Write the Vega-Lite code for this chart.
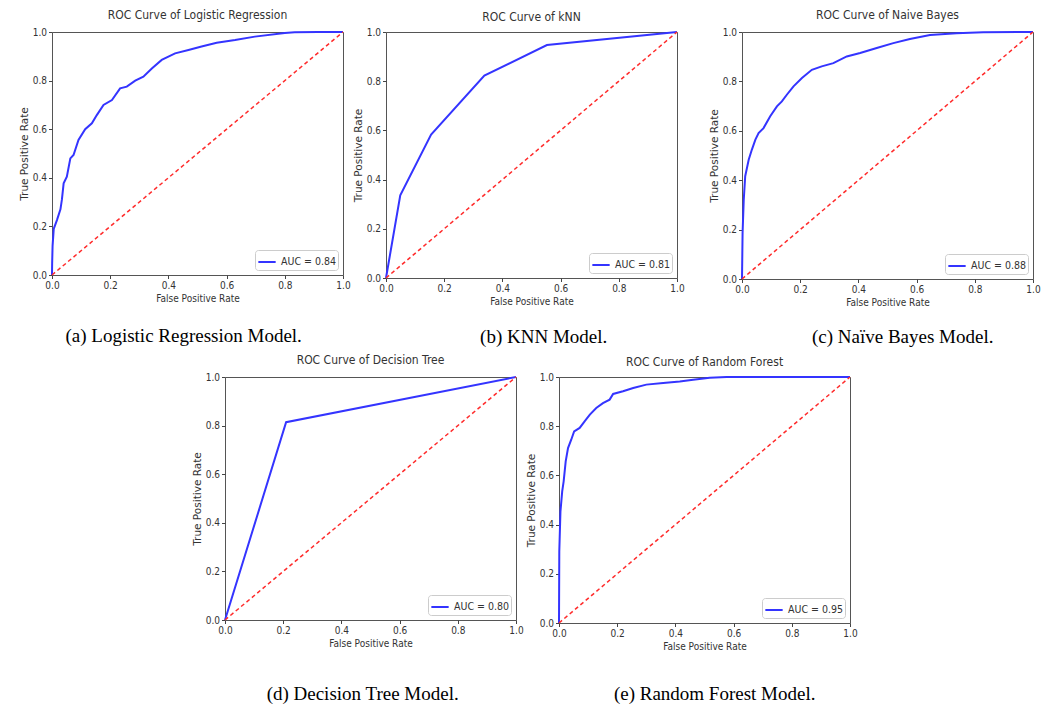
{
  "$schema": "https://vega.github.io/schema/vega-lite/v6.json",
  "background": "white",
  "padding": {"left": 18, "top": 8, "right": 4, "bottom": 2},
  "datasets": {
    "lr": [
      {"fpr": 0, "tpr": 0}, {"fpr": 0.0005, "tpr": 0.048}, {"fpr": 0.002, "tpr": 0.12}, {"fpr": 0.006, "tpr": 0.19},
      {"fpr": 0.017, "tpr": 0.226}, {"fpr": 0.029, "tpr": 0.27}, {"fpr": 0.034, "tpr": 0.31}, {"fpr": 0.04, "tpr": 0.377},
      {"fpr": 0.051, "tpr": 0.405}, {"fpr": 0.063, "tpr": 0.48}, {"fpr": 0.074, "tpr": 0.494}, {"fpr": 0.091, "tpr": 0.556},
      {"fpr": 0.114, "tpr": 0.6}, {"fpr": 0.137, "tpr": 0.624}, {"fpr": 0.154, "tpr": 0.658}, {"fpr": 0.177, "tpr": 0.7},
      {"fpr": 0.206, "tpr": 0.72}, {"fpr": 0.234, "tpr": 0.768}, {"fpr": 0.257, "tpr": 0.775}, {"fpr": 0.286, "tpr": 0.8},
      {"fpr": 0.314, "tpr": 0.816}, {"fpr": 0.343, "tpr": 0.85}, {"fpr": 0.377, "tpr": 0.885}, {"fpr": 0.423, "tpr": 0.912},
      {"fpr": 0.469, "tpr": 0.926}, {"fpr": 0.514, "tpr": 0.94}, {"fpr": 0.566, "tpr": 0.956}, {"fpr": 0.629, "tpr": 0.967},
      {"fpr": 0.697, "tpr": 0.981}, {"fpr": 0.8, "tpr": 0.996}, {"fpr": 0.834, "tpr": 0.999}, {"fpr": 0.914, "tpr": 1.0},
      {"fpr": 1.0, "tpr": 1.0}
    ],
    "knn": [
      {"fpr": 0, "tpr": 0}, {"fpr": 0.049, "tpr": 0.336}, {"fpr": 0.155, "tpr": 0.583}, {"fpr": 0.338, "tpr": 0.823},
      {"fpr": 0.553, "tpr": 0.947}, {"fpr": 1.0, "tpr": 1.0}
    ],
    "nb": [
      {"fpr": 0, "tpr": 0}, {"fpr": 0.002, "tpr": 0.186}, {"fpr": 0.006, "tpr": 0.321}, {"fpr": 0.011, "tpr": 0.416},
      {"fpr": 0.023, "tpr": 0.483}, {"fpr": 0.034, "tpr": 0.524}, {"fpr": 0.046, "tpr": 0.564}, {"fpr": 0.057, "tpr": 0.591},
      {"fpr": 0.074, "tpr": 0.611}, {"fpr": 0.097, "tpr": 0.659}, {"fpr": 0.12, "tpr": 0.699}, {"fpr": 0.137, "tpr": 0.719},
      {"fpr": 0.154, "tpr": 0.746}, {"fpr": 0.177, "tpr": 0.78}, {"fpr": 0.206, "tpr": 0.814}, {"fpr": 0.24, "tpr": 0.847},
      {"fpr": 0.274, "tpr": 0.861}, {"fpr": 0.314, "tpr": 0.874}, {"fpr": 0.36, "tpr": 0.901}, {"fpr": 0.406, "tpr": 0.915},
      {"fpr": 0.463, "tpr": 0.935}, {"fpr": 0.52, "tpr": 0.955}, {"fpr": 0.577, "tpr": 0.972}, {"fpr": 0.646, "tpr": 0.988},
      {"fpr": 0.737, "tpr": 0.995}, {"fpr": 0.829, "tpr": 0.999}, {"fpr": 1.0, "tpr": 1.0}
    ],
    "dt": [
      {"fpr": 0, "tpr": 0}, {"fpr": 0.21, "tpr": 0.814}, {"fpr": 1.0, "tpr": 1.0}
    ],
    "rf": [
      {"fpr": 0, "tpr": 0}, {"fpr": 0.001, "tpr": 0.291}, {"fpr": 0.005, "tpr": 0.454}, {"fpr": 0.011, "tpr": 0.535},
      {"fpr": 0.016, "tpr": 0.576}, {"fpr": 0.023, "tpr": 0.657}, {"fpr": 0.031, "tpr": 0.711}, {"fpr": 0.042, "tpr": 0.745},
      {"fpr": 0.052, "tpr": 0.779}, {"fpr": 0.071, "tpr": 0.793}, {"fpr": 0.088, "tpr": 0.82}, {"fpr": 0.106, "tpr": 0.847},
      {"fpr": 0.128, "tpr": 0.874}, {"fpr": 0.151, "tpr": 0.894}, {"fpr": 0.174, "tpr": 0.908}, {"fpr": 0.186, "tpr": 0.931},
      {"fpr": 0.22, "tpr": 0.942}, {"fpr": 0.255, "tpr": 0.955}, {"fpr": 0.3, "tpr": 0.969}, {"fpr": 0.358, "tpr": 0.976},
      {"fpr": 0.415, "tpr": 0.982}, {"fpr": 0.461, "tpr": 0.989}, {"fpr": 0.518, "tpr": 0.997}, {"fpr": 0.576, "tpr": 1.0},
      {"fpr": 1.0, "tpr": 1.0}
    ],
    "diag": [{"fpr": 0, "tpr": 0}, {"fpr": 1, "tpr": 1}]
  },
  "config": {
    "view": {"stroke": "#555", "strokeWidth": 1},
    "font": "DejaVu Sans Condensed, Liberation Sans Narrow, DejaVu Sans",
    "axis": {
      "grid": false, "domain": false, "tickSize": 3.5, "tickColor": "#444",
      "labelFont": "DejaVu Sans Condensed, Liberation Sans Narrow, DejaVu Sans", "labelFontSize": 10, "labelColor": "#333",
      "titleFont": "DejaVu Sans Condensed, Liberation Sans Narrow, DejaVu Sans", "titleFontSize": 10, "titleFontWeight": "normal", "titleColor": "#333",
      "labelPadding": 2, "labelFlush": false
    },
    "axisX": {"titlePadding": 3},
    "axisY": {"titlePadding": 3, "titleFont": "DejaVu Sans", "titleFontSize": 10.5},
    "legend": {
      "offset": 5, "symbolType": "stroke", "symbolStrokeWidth": 2, "symbolSize": 300,
      "labelFont": "DejaVu Sans Condensed, Liberation Sans Narrow, DejaVu Sans", "labelFontSize": 10.5, "labelColor": "#333",
      "strokeColor": "#ccc", "fillColor": "white", "padding": 2, "cornerRadius": 3
    },
    "title": {"font": "DejaVu Sans Condensed, Liberation Sans Narrow, DejaVu Sans", "fontSize": 12, "fontWeight": "normal", "color": "#333", "offset": 5}
  },
  "resolve": {"scale": {"color": "independent"}, "legend": {"color": "independent"}},
  "spacing": 6,
  "vconcat": [
    {
      "resolve": {"scale": {"color": "independent"}, "legend": {"color": "independent"}},
      "spacing": 23,
      "hconcat": [
        {
          "resolve": {"scale": {"color": "independent"}, "legend": {"color": "independent"}},
          "spacing": 1,
          "hconcat": [
            {
              "resolve": {"scale": {"color": "independent"}, "legend": {"color": "independent"}},
              "title": {"text": "(a) Logistic Regression Model.", "orient": "bottom", "anchor": "middle", "font": "Liberation Serif", "fontSize": 19, "color": "#000", "offset": 23, "dx": -1},
              "vconcat": [
                {
                  "width": 291, "height": 243,
                  "title": {"text": "ROC Curve of Logistic Regression"},
                  "encoding": {
                    "x": {"field": "fpr", "type": "quantitative", "scale": {"domain": [0, 1], "nice": false}, "axis": {"title": "False Positive Rate", "values": [0, 0.2, 0.4, 0.6, 0.8, 1], "format": ".1f"}},
                    "y": {"field": "tpr", "type": "quantitative", "scale": {"domain": [0, 1], "nice": false}, "axis": {"title": "True Positive Rate", "values": [0, 0.2, 0.4, 0.6, 0.8, 1], "format": ".1f"}}
                  },
                  "layer": [
                    {"data": {"name": "lr"}, "mark": {"type": "line", "strokeWidth": 2},
                     "encoding": {"color": {"datum": "AUC = 0.84", "scale": {"range": ["#3434ff"]}, "legend": {"orient": "bottom-right", "title": null}}}},
                    {"data": {"name": "diag"}, "mark": {"type": "line", "color": "#ff2b2b", "strokeWidth": 1.5, "strokeDash": [4, 3]}}
                  ]
                }
              ]
            },
            {
              "resolve": {"scale": {"color": "independent"}, "legend": {"color": "independent"}},
              "title": {"text": "(b) KNN Model.", "orient": "bottom", "anchor": "middle", "font": "Liberation Serif", "fontSize": 19, "color": "#000", "offset": 21, "dx": 25},
              "vconcat": [
                {
                  "width": 291, "height": 246,
                  "title": {"text": "ROC Curve of kNN", "offset": 3},
                  "encoding": {
                    "x": {"field": "fpr", "type": "quantitative", "scale": {"domain": [0, 1], "nice": false}, "axis": {"title": "False Positive Rate", "values": [0, 0.2, 0.4, 0.6, 0.8, 1], "format": ".1f"}},
                    "y": {"field": "tpr", "type": "quantitative", "scale": {"domain": [0, 1], "nice": false}, "axis": {"title": "True Positive Rate", "values": [0, 0.2, 0.4, 0.6, 0.8, 1], "format": ".1f"}}
                  },
                  "layer": [
                    {"data": {"name": "knn"}, "mark": {"type": "line", "strokeWidth": 2},
                     "encoding": {"color": {"datum": "AUC = 0.81", "scale": {"range": ["#3434ff"]}, "legend": {"orient": "bottom-right", "title": null}}}},
                    {"data": {"name": "diag"}, "mark": {"type": "line", "color": "#ff2b2b", "strokeWidth": 1.5, "strokeDash": [4, 3]}}
                  ]
                }
              ]
            }
          ]
        },
        {
          "resolve": {"scale": {"color": "independent"}, "legend": {"color": "independent"}},
          "title": {"text": "(c) Naïve Bayes Model.", "orient": "bottom", "anchor": "middle", "font": "Liberation Serif", "fontSize": 19, "color": "#000", "offset": 20, "dx": 28},
          "vconcat": [
            {
              "width": 291, "height": 247,
              "title": {"text": "ROC Curve of Naive Bayes"},
              "encoding": {
                "x": {"field": "fpr", "type": "quantitative", "scale": {"domain": [0, 1], "nice": false}, "axis": {"title": "False Positive Rate", "values": [0, 0.2, 0.4, 0.6, 0.8, 1], "format": ".1f"}},
                "y": {"field": "tpr", "type": "quantitative", "scale": {"domain": [0, 1], "nice": false}, "axis": {"title": "True Positive Rate", "values": [0, 0.2, 0.4, 0.6, 0.8, 1], "format": ".1f"}}
              },
              "layer": [
                {"data": {"name": "nb"}, "mark": {"type": "line", "strokeWidth": 2},
                 "encoding": {"color": {"datum": "AUC = 0.88", "scale": {"range": ["#3434ff"]}, "legend": {"orient": "bottom-right", "title": null}}}},
                {"data": {"name": "diag"}, "mark": {"type": "line", "color": "#ff2b2b", "strokeWidth": 1.5, "strokeDash": [4, 3]}}
              ]
            }
          ]
        }
      ]
    },
    {
      "resolve": {"scale": {"color": "independent"}, "legend": {"color": "independent"}},
      "spacing": 0,
      "hconcat": [
        {
          "width": 139, "height": 1,
          "view": {"stroke": null},
          "data": {"values": []},
          "mark": "point"
        },
        {
          "resolve": {"scale": {"color": "independent"}, "legend": {"color": "independent"}},
          "spacing": 1,
          "hconcat": [
            {
              "resolve": {"scale": {"color": "independent"}, "legend": {"color": "independent"}},
              "title": {"text": "(d) Decision Tree Model.", "orient": "bottom", "anchor": "middle", "font": "Liberation Serif", "fontSize": 19, "color": "#000", "offset": 36, "dx": 5},
              "vconcat": [
                {
                  "width": 291, "height": 243,
                  "title": {"text": "ROC Curve of Decision Tree"},
                  "encoding": {
                    "x": {"field": "fpr", "type": "quantitative", "scale": {"domain": [0, 1], "nice": false}, "axis": {"title": "False Positive Rate", "values": [0, 0.2, 0.4, 0.6, 0.8, 1], "format": ".1f"}},
                    "y": {"field": "tpr", "type": "quantitative", "scale": {"domain": [0, 1], "nice": false}, "axis": {"title": "True Positive Rate", "values": [0, 0.2, 0.4, 0.6, 0.8, 1], "format": ".1f"}}
                  },
                  "layer": [
                    {"data": {"name": "dt"}, "mark": {"type": "line", "strokeWidth": 2},
                     "encoding": {"color": {"datum": "AUC = 0.80", "scale": {"range": ["#3434ff"]}, "legend": {"orient": "bottom-right", "title": null}}}},
                    {"data": {"name": "diag"}, "mark": {"type": "line", "color": "#ff2b2b", "strokeWidth": 1.5, "strokeDash": [4, 3]}}
                  ]
                }
              ]
            },
            {
              "resolve": {"scale": {"color": "independent"}, "legend": {"color": "independent"}},
              "title": {"text": "(e) Random Forest Model.", "orient": "bottom", "anchor": "middle", "font": "Liberation Serif", "fontSize": 19, "color": "#000", "offset": 33, "dx": 23},
              "vconcat": [
                {
                  "width": 291, "height": 246,
                  "title": {"text": "ROC Curve of Random Forest", "offset": 3},
                  "encoding": {
                    "x": {"field": "fpr", "type": "quantitative", "scale": {"domain": [0, 1], "nice": false}, "axis": {"title": "False Positive Rate", "values": [0, 0.2, 0.4, 0.6, 0.8, 1], "format": ".1f"}},
                    "y": {"field": "tpr", "type": "quantitative", "scale": {"domain": [0, 1], "nice": false}, "axis": {"title": "True Positive Rate", "values": [0, 0.2, 0.4, 0.6, 0.8, 1], "format": ".1f"}}
                  },
                  "layer": [
                    {"data": {"name": "rf"}, "mark": {"type": "line", "strokeWidth": 2},
                     "encoding": {"color": {"datum": "AUC = 0.95", "scale": {"range": ["#3434ff"]}, "legend": {"orient": "bottom-right", "title": null}}}},
                    {"data": {"name": "diag"}, "mark": {"type": "line", "color": "#ff2b2b", "strokeWidth": 1.5, "strokeDash": [4, 3]}}
                  ]
                }
              ]
            }
          ]
        }
      ]
    }
  ]
}
